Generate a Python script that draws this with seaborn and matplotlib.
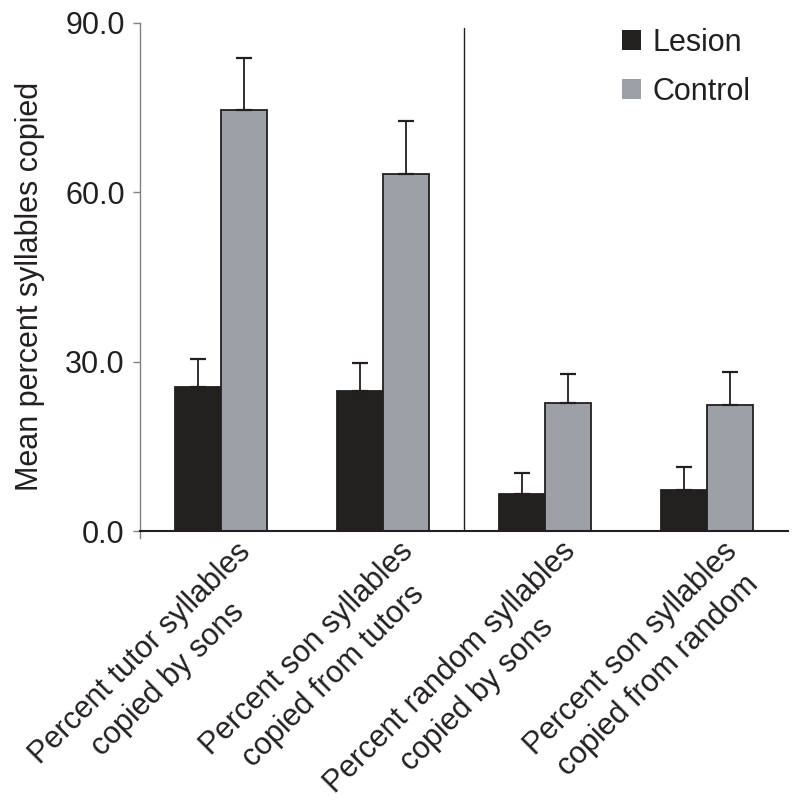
import matplotlib
matplotlib.use("Agg")
import matplotlib.pyplot as plt
from matplotlib.ticker import FormatStrFormatter
from matplotlib.transforms import ScaledTranslation
import numpy as np
import pandas as pd
import seaborn as sns

# values
categories = ["Percent tutor syllables\ncopied by sons",
              "Percent son syllables\ncopied from tutors",
              "Percent random syllables\ncopied by sons",
              "Percent son syllables\ncopied from random"]
groups = ["Lesion", "Control"]
lesion_mean = [25.6, 24.8, 6.5, 7.3]
lesion_err = [4.9, 4.9, 3.7, 4.1]
control_mean = [74.6, 63.3, 22.7, 22.3]
control_err = [9.2, 9.3, 5.1, 5.9]

sns.set_style("ticks")
plt.rcParams['font.family'] = ['Liberation Sans', 'DejaVu Sans']
ink = "#231f20"
colors = {"Lesion": ink, "Control": "#9ca1a8"}
fs = 22

df = pd.DataFrame({
    "category": categories * 2,
    "group": ["Lesion"] * 4 + ["Control"] * 4,
    "mean": lesion_mean + control_mean,
    "err": lesion_err + control_err,
})

fig = plt.figure(figsize=(8, 8.07), dpi=100)
ax = fig.add_axes([0.175, 0.342, 0.81, 0.6295])

sns.barplot(data=df, x="category", y="mean", hue="group", hue_order=groups,
            order=categories, palette=colors, width=0.57, gap=0,
            edgecolor=ink, linewidth=1.3, errorbar=None, ax=ax)

# upper-only error bars, placed on the seaborn bars
for (g, cont) in zip(groups, ax.containers):
    sub = df[df.group == g].set_index("category").loc[categories]
    for p, e in zip(cont.patches, sub["err"]):
        xc = p.get_x() + p.get_width() / 2
        ax.errorbar(xc, p.get_height(), yerr=[[0], [e]], fmt="none",
                    ecolor=ink, elinewidth=1.3, capsize=5.5, capthick=1.6,
                    zorder=1)

ax.axvline(1.5, ymin=0, ymax=0.99, color=ink, lw=1.0)

ax.set_ylim(0, 90)
ax.set_xlim(-0.5, 3.5)
ax.set_yticks([0, 30, 60, 90])
ax.yaxis.set_major_formatter(FormatStrFormatter('%.1f'))
ax.tick_params(axis='y', labelsize=fs, length=5, width=1, color="#808080",
               pad=6, labelcolor=ink)
ax.tick_params(axis='x', length=0, pad=4, labelcolor=ink)
ax.set_xticks(range(4))
ax.set_xticklabels(categories, rotation=45, ha='right', va='top',
                   rotation_mode='anchor', fontsize=fs, multialignment='center',
                   linespacing=1.35)
shift = ScaledTranslation(15 / 100, 0, fig.dpi_scale_trans)
for lab in ax.get_xticklabels():
    lab.set_transform(lab.get_transform() + shift)
ax.set_xlabel("")
ax.set_ylabel("Mean percent syllables copied", fontsize=fs, color=ink)
ax.yaxis.set_label_coords(-0.147, 0.482)

sns.despine(ax=ax)
ax.spines['left'].set_color("#808080")
ax.spines['left'].set_linewidth(1.0)
ax.spines['left'].set_bounds(-1.3, 90)
ax.spines['bottom'].set_color(ink)
ax.spines['bottom'].set_linewidth(1.5)

handles, labels = ax.get_legend_handles_labels()
leg = ax.legend(handles, labels, loc='upper right', bbox_to_anchor=(0.985, 1.045),
                frameon=False, fontsize=fs, handlelength=0.6,
                handleheight=0.6, handletextpad=0.4, labelspacing=0.62)
for h in leg.legend_handles:
    h.set_edgecolor('none')
for t in leg.get_texts():
    t.set_color(ink)

fig.savefig("out.png", dpi=100)
